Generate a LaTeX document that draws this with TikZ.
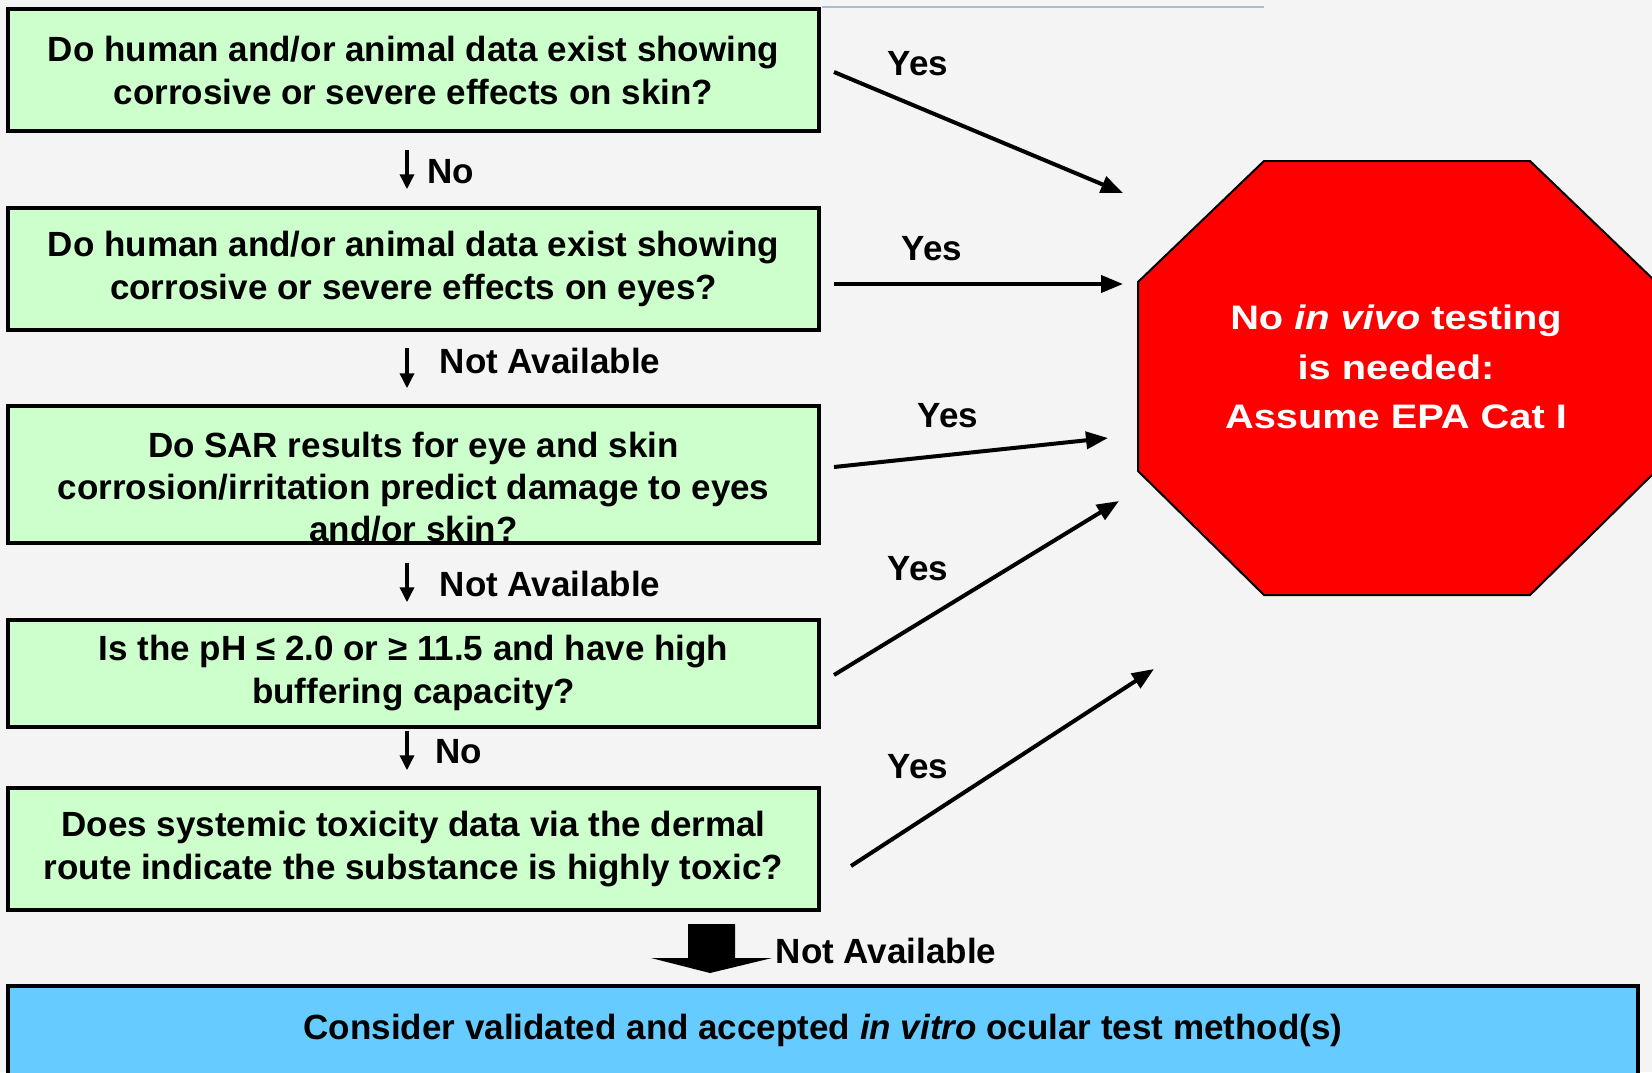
\documentclass[tikz,border=0pt]{standalone}
\usepackage{fontspec}
\setmainfont{Liberation Sans}
\newfontfamily\widefont{Liberation Sans}[FakeStretch=1.17]
\usetikzlibrary{arrows.meta}
\definecolor{bgc}{HTML}{F4F4F4}
\definecolor{qgreen}{HTML}{CCFFCC}
\definecolor{qblue}{HTML}{66CCFF}
\definecolor{stopred}{HTML}{FF0000}
\definecolor{topline}{HTML}{A9BCD8}
\begin{document}
\begin{tikzpicture}[x=1pt,y=-1pt,
  qbox/.style={draw=black, line width=3.5pt, fill=qgreen, inner sep=0pt, align=center,
    font=\fontsize{35}{43}\selectfont\bfseries},
  ebox/.style={draw=black, line width=3.5pt, inner sep=0pt},
  qtext/.style={inner sep=0pt, align=center, font=\fontsize{35}{42}\selectfont\bfseries},
  lbl/.style={inner sep=0pt, font=\fontsize{35}{43}\selectfont\bfseries},
  dnarrow/.style={line width=3.5pt, -{Triangle[length=15pt,width=14pt]}},
  yesarrow/.style={line width=4pt, -{Triangle[length=22pt,width=17pt]}},
]
\useasboundingbox (0,0) rectangle (1652,1072);
\clip (0,0) rectangle (1652,1072);
\fill[bgc] (0,0) rectangle (1652,1072);
\draw[topline, line width=1.5pt] (822,7) -- (1264,7);

% question boxes
\node[qbox, minimum width=811pt, minimum height=122pt] (b1) at (413.5,70)
  {Do human and/or animal data exist showing\\corrosive or severe effects on skin?};
\node[qbox, minimum width=811pt, minimum height=122pt] (b2) at (413.5,269)
  {Do human and/or animal data exist showing\\corrosive or severe effects on eyes?};
\node[ebox, fill=qgreen, minimum width=811pt, minimum height=137pt] (b3) at (413.5,474.5) {};
\node[qtext] (t3) at (413.5,487)
  {Do SAR results for eye and skin\\corrosion/irritation predict damage to eyes\\and/or skin?};
\node[qbox, minimum width=811pt, minimum height=107pt] (b4) at (413.5,673.5)
  {Is the pH ≤ 2.0 or ≥ 11.5 and have high\\buffering capacity?};
\node[qbox, minimum width=811pt, minimum height=122pt] (b5) at (413.5,849)
  {Does systemic toxicity data via the dermal\\route indicate the substance is highly toxic?};
\node[ebox, fill=qblue, minimum width=1630pt, minimum height=114pt] (b6) at (823,1043) {};
\node[lbl] (t6) at (823,1030)
  {Consider validated and accepted \textit{in vitro} ocular test method(s)};

% stop octagon
\filldraw[fill=stopred, draw=black, line width=2pt]
  (1264,161) -- (1530,161) -- (1656,282) -- (1656,471) -- (1530,595)
  -- (1264,595) -- (1138,471) -- (1138,282) -- cycle;
\node[inner sep=0pt, align=center, text=white,
  font=\fontsize{34}{49.5}\selectfont\widefont\bfseries] (stop) at (1396,367)
  {No \textit{in vivo} testing\\is needed:\\Assume EPA Cat I};

% down arrows
\draw[dnarrow, shorten <=17pt, shorten >=17pt] ([xshift=-6.5pt]b1.south) -- ([xshift=-6.5pt]b2.north);
\draw[dnarrow, shorten <=16pt, shorten >=16pt] ([xshift=-6.5pt]b2.south) -- ([xshift=-6.5pt]b3.north);
\draw[dnarrow, shorten <=18pt, shorten >=16pt] ([xshift=-6.5pt]b3.south) -- ([xshift=-6.5pt]b4.north);
\draw[dnarrow, shorten <=2pt, shorten >=16pt] ([xshift=-6.5pt]b4.south) -- ([xshift=-6.5pt]b5.north);
\node[lbl] (n1) at (451,172) {No};
\node[lbl] (n2) at (550,361) {Not Available};
\node[lbl] (n3) at (550,584) {Not Available};
\node[lbl] (n4) at (459,752) {No};

% block arrow to final box
\coordinate (ba) at (711.5,924);
\fill[black] (688,924) -- (735,924) -- (735,958) -- (772,958) -- (710,973)
  -- (651,958) -- (688,958) -- cycle;
\node[lbl] (n5) at (886,951) {Not Available};

% yes arrows
\coordinate (y1s) at (834,72);   \coordinate (y1e) at (1123,193);
\coordinate (y2s) at (834,284);  \coordinate (y2e) at (1123,284);
\coordinate (y3s) at (834,467);  \coordinate (y3e) at (1108,438);
\coordinate (y4s) at (834,675);  \coordinate (y4e) at (1119,501);
\coordinate (y5s) at (851,866);  \coordinate (y5e) at (1154,669);
\draw[yesarrow] (y1s) -- (y1e);
\draw[yesarrow] (y2s) -- (y2e);
\draw[yesarrow] (y3s) -- (y3e);
\draw[yesarrow] (y4s) -- (y4e);
\draw[yesarrow] (y5s) -- (y5e);
\node[lbl] (l1) at (918,64) {Yes};
\node[lbl] (l2) at (932,249) {Yes};
\node[lbl] (l3) at (948,416) {Yes};
\node[lbl] (l4) at (918,569) {Yes};
\node[lbl] (l5) at (918,767) {Yes};
\end{tikzpicture}
\end{document}
